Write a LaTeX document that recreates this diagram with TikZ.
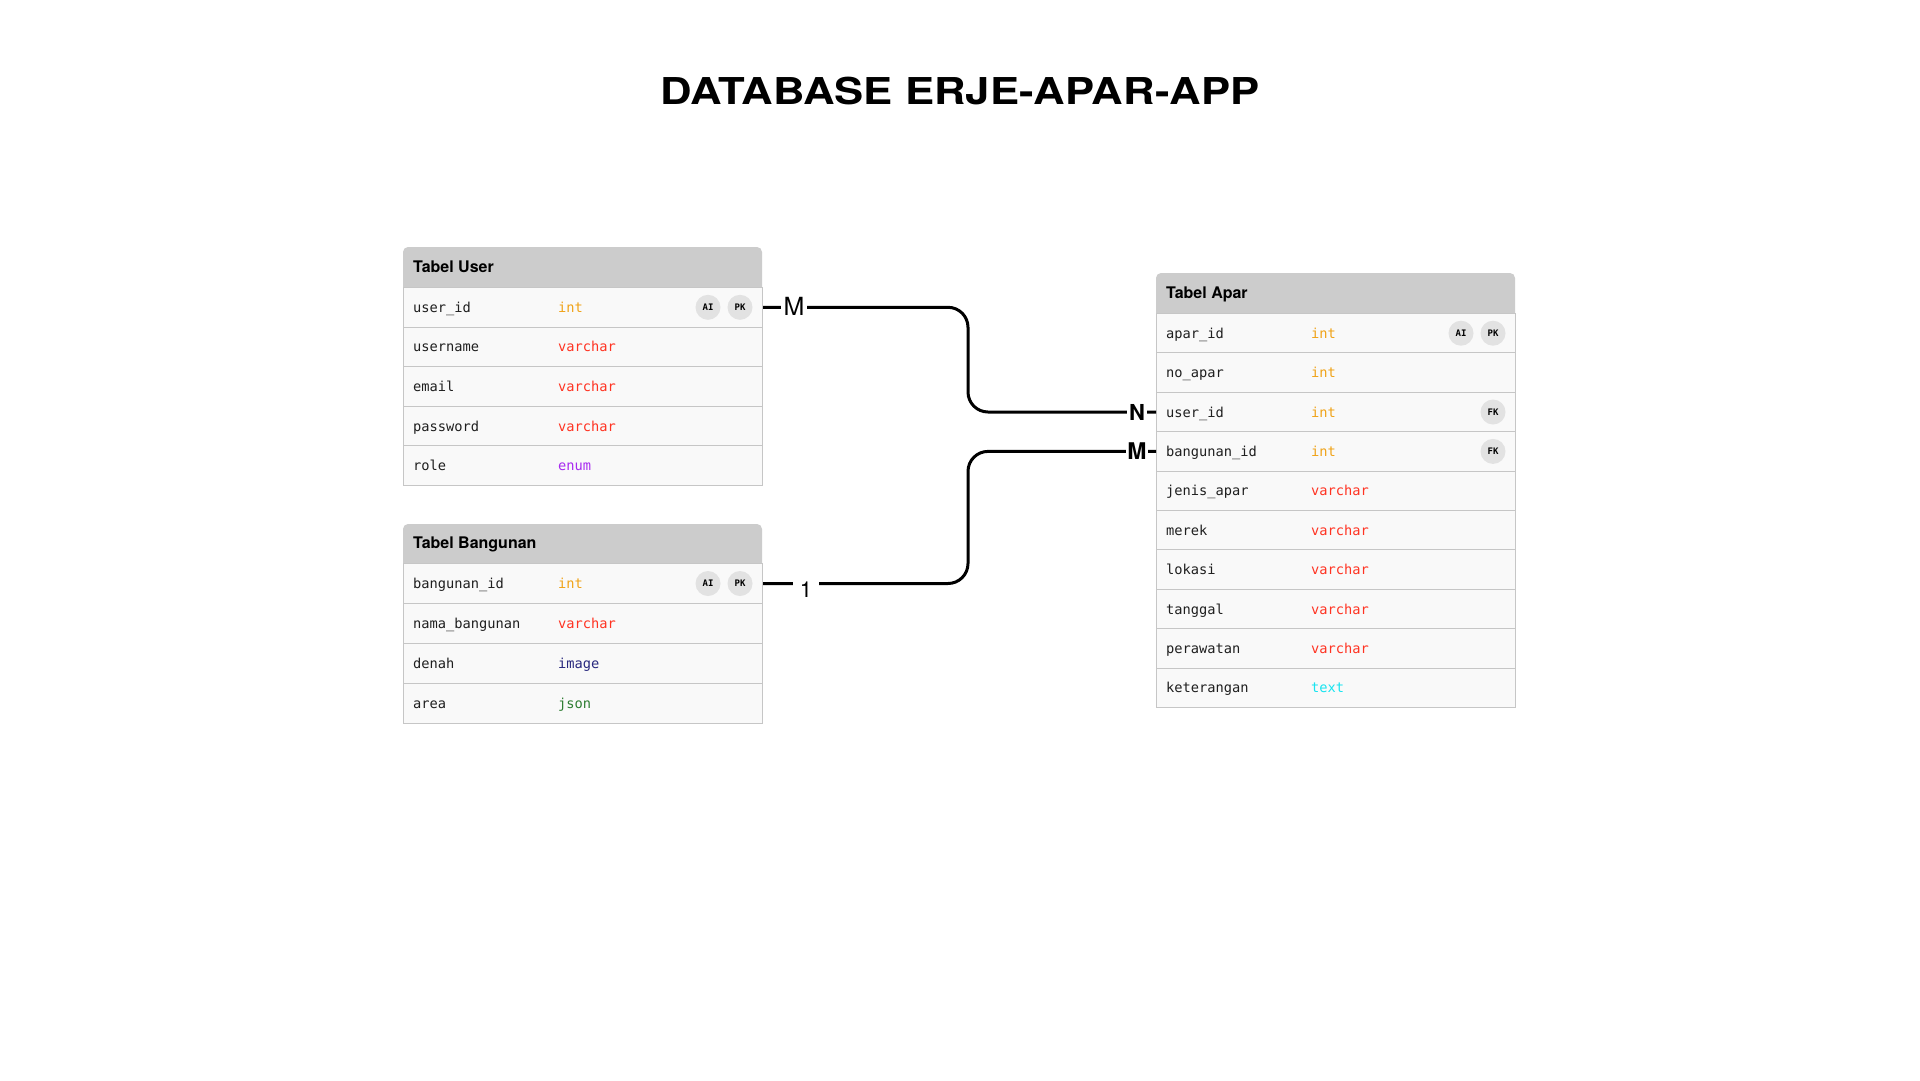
\documentclass[tikz,border=0pt]{standalone}
\usepackage{fontspec}
\setmainfont{TeX Gyre Heros}
\newfontfamily\monof{DejaVu Sans Mono}
\usetikzlibrary{calc}
\definecolor{hdrc}{HTML}{CCCCCC}
\definecolor{rowc}{HTML}{F9F9F9}
\definecolor{bordc}{HTML}{C6C6C6}
\definecolor{badgec}{HTML}{E2E2E2}
\definecolor{intc}{HTML}{F0A318}
\definecolor{varc}{HTML}{FF3322}
\definecolor{enumc}{HTML}{A82AF0}
\definecolor{imgc}{HTML}{28287E}
\definecolor{jsonc}{HTML}{2E7D32}
\definecolor{textc}{HTML}{18E4F0}
\tikzset{
  rowbox/.style={rectangle, draw=bordc, fill=rowc, line width=1pt, minimum width=359pt, inner sep=0pt},
  fieldtxt/.style={inner sep=0pt, font=\monof\fontsize{13.7}{16}\selectfont, text=black!88},
  hdrtxt/.style={inner sep=0pt, font=\bfseries\fontsize{16}{18}\selectfont},
  badge/.style={circle, fill=badgec, minimum size=25pt, inner sep=0pt, font=\monof\bfseries\fontsize{9}{10}\selectfont},
  conn/.style={line width=3pt, rounded corners=20pt, black},
  lbl/.style={fill=white, inner xsep=2.5pt, inner ysep=1pt}
}
\newcommand\tabrow[7]{%
  \node[rowbox, minimum height=#4pt, anchor=north west] (#1) at (#2,#3) {};
  \node[fieldtxt, anchor=base west] (#1-f) at ($(#1.west)+(10,5)$) {#5};
  \node[fieldtxt, text=#7, anchor=base west] (#1-t) at ($(#1.west)+(155,5)$) {#6};
}
\newcommand\tabhead[5]{% name, x, ytop, h, title
  \fill[hdrc] (#2,#3+#4) [rounded corners=5pt] -- (#2,#3) -- (#2+359,#3) [sharp corners] -- (#2+359,#3+#4) -- cycle;
  \node[hdrtxt, anchor=base west] (#1) at (#2+10,#3+#4/2+5) {#5};
}
\begin{document}
\begin{tikzpicture}[x=1pt,y=-1pt]
\useasboundingbox[fill=white] (0,0) rectangle (1920,1080);

\node[font=\bfseries\fontsize{37}{40}\selectfont, anchor=base, inner sep=0pt] (title) at (960,104) {\scalebox{1.18}[1]{DATABASE ERJE-APAR-APP}};

% Tabel User
\tabhead{userh}{403}{247}{40}{Tabel User}
\tabrow{u1}{403}{287}{39.6}{user\_id}{int}{intc}
\tabrow{u2}{403}{326.6}{39.6}{username}{varchar}{varc}
\tabrow{u3}{403}{366.2}{39.6}{email}{varchar}{varc}
\tabrow{u4}{403}{405.8}{39.6}{password}{varchar}{varc}
\tabrow{u5}{403}{445.4}{39.6}{role}{enum}{enumc}
\node[badge] (u1ai) at ($(u1.east)+(-55,0)$) {AI};
\node[badge] (u1pk) at ($(u1.east)+(-23,0)$) {PK};

% Tabel Bangunan
\tabhead{bangh}{403}{524}{39}{Tabel Bangunan}
\tabrow{b1}{403}{563}{40}{bangunan\_id}{int}{intc}
\tabrow{b2}{403}{603}{40}{nama\_bangunan}{varchar}{varc}
\tabrow{b3}{403}{643}{40}{denah}{image}{imgc}
\tabrow{b4}{403}{683}{40}{area}{json}{jsonc}
\node[badge] (b1ai) at ($(b1.east)+(-55,0)$) {AI};
\node[badge] (b1pk) at ($(b1.east)+(-23,0)$) {PK};

% Tabel Apar
\tabhead{aparh}{1156}{273}{40}{Tabel Apar}
\tabrow{a1}{1156}{313}{39.4}{apar\_id}{int}{intc}
\tabrow{a2}{1156}{352.4}{39.4}{no\_apar}{int}{intc}
\tabrow{a3}{1156}{391.8}{39.4}{user\_id}{int}{intc}
\tabrow{a4}{1156}{431.2}{39.4}{bangunan\_id}{int}{intc}
\tabrow{a5}{1156}{470.6}{39.4}{jenis\_apar}{varchar}{varc}
\tabrow{a6}{1156}{510}{39.4}{merek}{varchar}{varc}
\tabrow{a7}{1156}{549.4}{39.4}{lokasi}{varchar}{varc}
\tabrow{a8}{1156}{588.8}{39.4}{tanggal}{varchar}{varc}
\tabrow{a9}{1156}{628.2}{39.4}{perawatan}{varchar}{varc}
\tabrow{a10}{1156}{667.6}{39.4}{keterangan}{text}{textc}
\node[badge] (a1ai) at ($(a1.east)+(-55,0)$) {AI};
\node[badge] (a1pk) at ($(a1.east)+(-23,0)$) {PK};
\node[badge] (a3fk) at ($(a3.east)+(-23,0)$) {FK};
\node[badge] (a4fk) at ($(a4.east)+(-23,0)$) {FK};

% connectors
\coordinate (bend1) at (968,360);
\coordinate (bend2) at (968,520);
\draw[conn] (u1.east) -| (bend1) |- (a3.west);
\draw[conn] (b1.east) -| (bend2) |- (a4.west);

\node[lbl, font=\fontsize{25}{26}\selectfont] (m1) at (794,306) {M};
\node[lbl, font=\fontsize{22}{24}\selectfont, inner xsep=6.5pt] (one) at (806,590) {1};
\node[lbl, font=\bfseries\fontsize{22}{24}\selectfont, inner xsep=2.5pt] (n1) at (1137,412) {N};
\node[lbl, font=\bfseries\fontsize{23}{24}\selectfont, inner xsep=1.5pt] (m2) at (1137,451) {M};
\end{tikzpicture}
\end{document}
